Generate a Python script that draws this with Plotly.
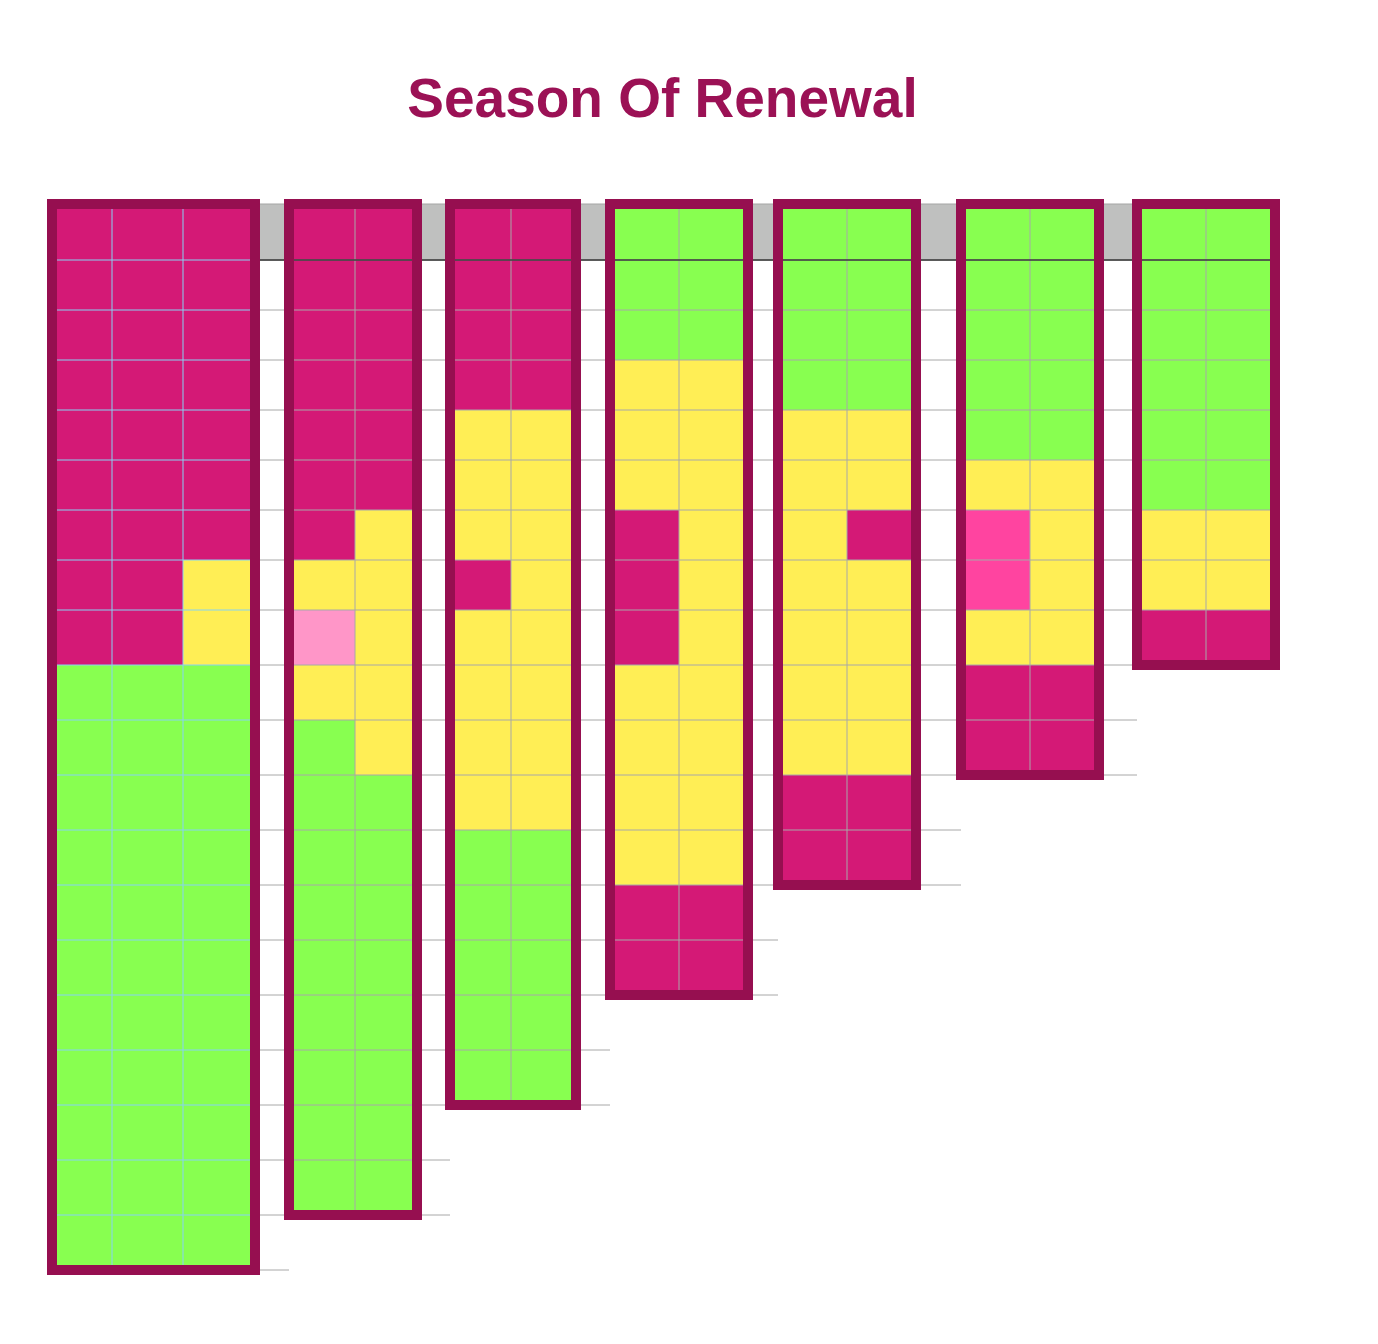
import plotly.graph_objects as go

# ---------------- data ----------------
# category codes used in the grids
CODES = ["M", "Y", "G", "P", "H"]
CATEGORY_NAMES = ["Rest", "Bud", "Leaf", "Blush", "Spark"]
CATEGORY_COLORS = ["#D41976", "#FFEE55", "#88FF50", "#FF96C8", "#FF44A0"]

GROUP_NAMES = ["I", "II", "III", "IV", "V", "VI", "VII"]

GRID_1 = ["MMM", "MMM", "MMM", "MMM", "MMM", "MMM", "MMM", "MMY", "MMY",
          "GGG", "GGG", "GGG", "GGG", "GGG", "GGG", "GGG", "GGG", "GGG", "GGG", "GGG"]
GRID_2 = ["MM", "MM", "MM", "MM", "MM", "MM", "MY", "YY", "PY", "YY", "GY",
          "GG", "GG", "GG", "GG", "GG", "GG", "GG", "GG"]
GRID_3 = ["MM", "MM", "MM", "MM", "YY", "YY", "YY", "MY", "YY", "YY", "YY", "YY",
          "GG", "GG", "GG", "GG", "GG"]
GRID_4 = ["GG", "GG", "GG", "YY", "YY", "YY", "MY", "MY", "MY", "YY", "YY", "YY", "YY",
          "MM", "MM"]
GRID_5 = ["GG", "GG", "GG", "GG", "YY", "YY", "YM", "YY", "YY", "YY", "YY", "MM", "MM"]
GRID_6 = ["GG", "GG", "GG", "GG", "GG", "YY", "HY", "HY", "YY", "MM", "MM"]
GRID_7 = ["GG", "GG", "GG", "GG", "GG", "GG", "YY", "YY", "MM"]
GRIDS = [GRID_1, GRID_2, GRID_3, GRID_4, GRID_5, GRID_6, GRID_7]

TITLE = "Season Of Renewal"

# ---------------- layout (pixel-like axis units) ----------------
W, H = 1378, 1344
TOP = 204
ROW_HEIGHTS = [56] + [50] * 7 + [55] * 12
GROUP_LEFT = [52, 289, 450, 610, 778, 961, 1137]
CELL_WIDTHS = [[60, 71, 72], [66, 62], [61, 65], [69, 69], [69, 69], [69, 69], [69, 69]]

BORDER = "#960F50"
GRID_GRAY = "#A8A8A8"
GRID_BLUE = "#86D3F3"
BAND_GRAY = "#BFC0BF"
DARK_LINE = "#3A3A3A"

ROW_EDGES = [TOP]
for h in ROW_HEIGHTS:
    ROW_EDGES.append(ROW_EDGES[-1] + h)

n_cat = len(CODES)
colorscale = []
for i, c in enumerate(CATEGORY_COLORS):
    lo = max(0.0, (i - 0.5) / (n_cat - 1))
    hi = min(1.0, (i + 0.5) / (n_cat - 1))
    colorscale += [[lo, c], [hi, c]]

fig = go.Figure()

group_x_edges = []
group_y_edges = []
for gi, grid in enumerate(GRIDS):
    xe = [GROUP_LEFT[gi]]
    for w in CELL_WIDTHS[gi]:
        xe.append(xe[-1] + w)
    ye = ROW_EDGES[: len(grid) + 1]
    group_x_edges.append(xe)
    group_y_edges.append(ye)
    z = [[CODES.index(ch) for ch in row] for row in grid]
    text = [[CATEGORY_NAMES[CODES.index(ch)] for ch in row] for row in grid]
    fig.add_trace(go.Heatmap(
        z=z, x=xe, y=ye, text=text,
        colorscale=colorscale, zmin=0, zmax=n_cat - 1,
        showscale=False, name=GROUP_NAMES[gi],
        hovertemplate=GROUP_NAMES[gi] + ": %{text}<extra></extra>",
    ))

# grid lines
for gi in range(len(GRIDS)):
    xe, ye = group_x_edges[gi], group_y_edges[gi]
    right_ext = GROUP_LEFT[gi + 1] if gi + 1 < len(GRIDS) else xe[-1]
    in_x, in_y, gap_x, gap_y = [], [], [], []
    for y in ye[1:]:
        in_x += [xe[0], xe[-1], None]
        in_y += [y, y, None]
        gap_x += [xe[-1], right_ext, None]
        gap_y += [y, y, None]
    for x in xe[1:-1]:
        in_x += [x, x, None]
        in_y += [ye[0], ye[-1], None]
    fig.add_trace(go.Scatter(x=in_x, y=in_y, mode="lines", hoverinfo="skip",
                             line=dict(color=GRID_BLUE if gi == 0 else GRID_GRAY, width=1)))
    fig.add_trace(go.Scatter(x=gap_x, y=gap_y, mode="lines", hoverinfo="skip",
                             line=dict(color=GRID_GRAY, width=1)))

# dark line under the header band
fig.add_trace(go.Scatter(
    x=[group_x_edges[0][-1], group_x_edges[-1][-1]],
    y=[ROW_EDGES[1], ROW_EDGES[1]],
    mode="lines", hoverinfo="skip", line=dict(color=DARK_LINE, width=1.5)))

shapes = [dict(type="rect", xref="x", yref="y", layer="below",
               x0=group_x_edges[0][0], x1=group_x_edges[-1][-1],
               y0=ROW_EDGES[0], y1=ROW_EDGES[1],
               fillcolor=BAND_GRAY, line=dict(color="#A5A5A5", width=1))]
for xe, ye in zip(group_x_edges, group_y_edges):
    shapes.append(dict(type="rect", xref="x", yref="y", layer="above",
                       x0=xe[0], x1=xe[-1], y0=ye[0], y1=ye[-1],
                       fillcolor="rgba(0,0,0,0)", line=dict(color=BORDER, width=10)))

fig.update_layout(
    width=W, height=H,
    margin=dict(l=0, r=0, t=0, b=0),
    paper_bgcolor="white", plot_bgcolor="white",
    showlegend=False,
    shapes=shapes,
    xaxis=dict(range=[0, W], visible=False, fixedrange=True),
    yaxis=dict(range=[H, 0], visible=False, fixedrange=True),
    title=dict(text=TITLE, x=662.5 / W, xanchor="center",
               y=1 - 98 / H, yanchor="middle",
               font=dict(family="Liberation Sans, Arial, sans-serif", size=55,
                         color="#9B1155", weight="bold")),
)

fig.write_html("out.html")
